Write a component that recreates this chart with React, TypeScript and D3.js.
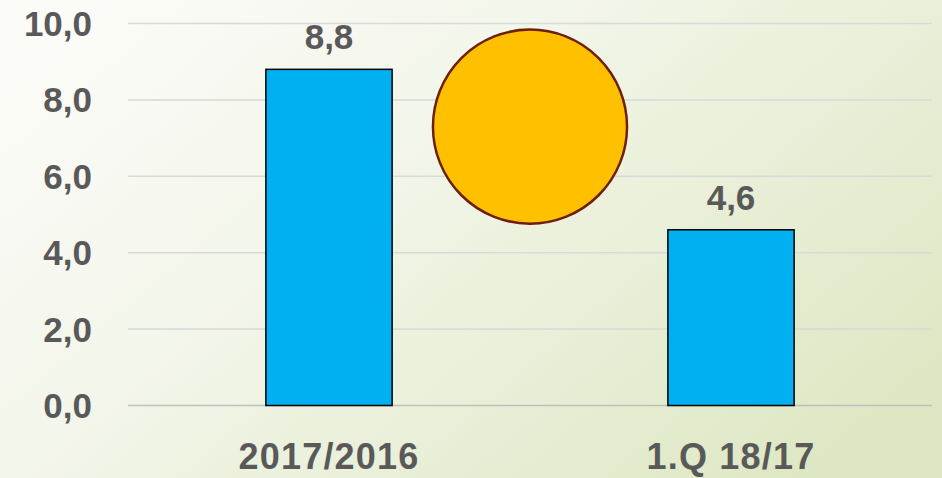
import { useEffect, useRef } from 'react';
import * as d3 from 'd3';

// data
const categories = ['2017/2016', '1.Q 18/17'];
const values = [8.8, 4.6];
const yTicks = [0, 2, 4, 6, 8, 10];
// decorative circle, given in data units (centre value, radius in units)
const circleCenterValue = 7.3;
const circleRadiusUnits = 2.54;

const fmt = (v: number) => v.toFixed(1).replace('.', ',');

const App = () => {
  const svgRef = useRef<SVGSVGElement>(null);

  useEffect(() => {
    const W = 942;
    const H = 478;
    const root = d3.select(svgRef.current);
    root.selectAll('*').remove();
    root.attr('width', W).attr('height', H);

    // Background gradient
    const defs = root.append('defs');
    const grad = defs
      .append('linearGradient')
      .attr('id', 'bg')
      .attr('x1', '0')
      .attr('y1', '0.2')
      .attr('x2', '1')
      .attr('y2', '0.8');
    grad.append('stop').attr('offset', '0%').attr('stop-color', '#FBFBF7');
    grad.append('stop').attr('offset', '35%').attr('stop-color', '#F3F6EA');
    grad.append('stop').attr('offset', '100%').attr('stop-color', '#DDE7C3');
    root.append('rect').attr('width', W).attr('height', H).attr('fill', 'url(#bg)');

    const plot = { left: 128, right: 932, top: 23.5, bottom: 405.5 };

    const x = d3
      .scaleBand<string>()
      .domain(categories)
      .range([plot.left, plot.right])
      .padding(0);

    const y = d3.scaleLinear().domain([0, 10]).range([plot.bottom, plot.top]);

    const barW = x.bandwidth() * 0.314;
    const font = '"Liberation Sans", Arial, sans-serif';
    const textColor = '#595959';

    // Gridlines
    root
      .append('g')
      .selectAll('line')
      .data(yTicks)
      .enter()
      .append('line')
      .attr('x1', plot.left)
      .attr('x2', plot.right)
      .attr('y1', d => y(d))
      .attr('y2', d => y(d))
      .attr('stroke', d => (d === 0 ? '#BFBFBF' : '#D9D9D9'))
      .attr('stroke-width', 1.5);

    // Y tick labels
    root
      .append('g')
      .selectAll('text')
      .data(yTicks)
      .enter()
      .append('text')
      .attr('x', 92)
      .attr('y', d => y(d) + 12.5)
      .attr('text-anchor', 'end')
      .style('font-family', font)
      .style('font-weight', 'bold')
      .style('font-size', '35px')
      .attr('fill', textColor)
      .text(d => fmt(d));

    // Bars
    root
      .append('g')
      .selectAll('rect')
      .data(values)
      .enter()
      .append('rect')
      .attr('x', (d, i) => x(categories[i])! + x.bandwidth() / 2 - barW / 2)
      .attr('y', d => y(d))
      .attr('width', barW)
      .attr('height', d => y(0) - y(d))
      .attr('fill', '#00B0F0')
      .attr('stroke', '#000')
      .attr('stroke-width', 1.5);

    // Value labels
    root
      .append('g')
      .selectAll('text')
      .data(values)
      .enter()
      .append('text')
      .attr('x', (d, i) => x(categories[i])! + x.bandwidth() / 2)
      .attr('y', d => y(d) - 20)
      .attr('text-anchor', 'middle')
      .style('font-family', font)
      .style('font-weight', 'bold')
      .style('font-size', '35px')
      .attr('fill', textColor)
      .text(d => fmt(d));

    // Category labels
    root
      .append('g')
      .selectAll('text')
      .data(categories)
      .enter()
      .append('text')
      .attr('x', d => x(d)! + x.bandwidth() / 2)
      .attr('y', 469)
      .attr('text-anchor', 'middle')
      .style('font-family', font)
      .style('font-weight', 'bold')
      .style('font-size', '36px')
      .style('letter-spacing', '1.2px')
      .attr('fill', textColor)
      .text(d => d);

    // Decorative circle between the bars
    const cx = (x(categories[0])! + x(categories[1])! + x.bandwidth()) / 2;
    root
      .append('circle')
      .attr('cx', cx)
      .attr('cy', y(circleCenterValue))
      .attr('r', y(0) - y(circleRadiusUnits))
      .attr('fill', '#FFC000')
      .attr('stroke', '#6E1F0A')
      .attr('stroke-width', 2.5);
  }, []);

  return <svg ref={svgRef} style={{ position: 'absolute', left: 0, top: 0, display: 'block' }}></svg>;
};

export default App;
